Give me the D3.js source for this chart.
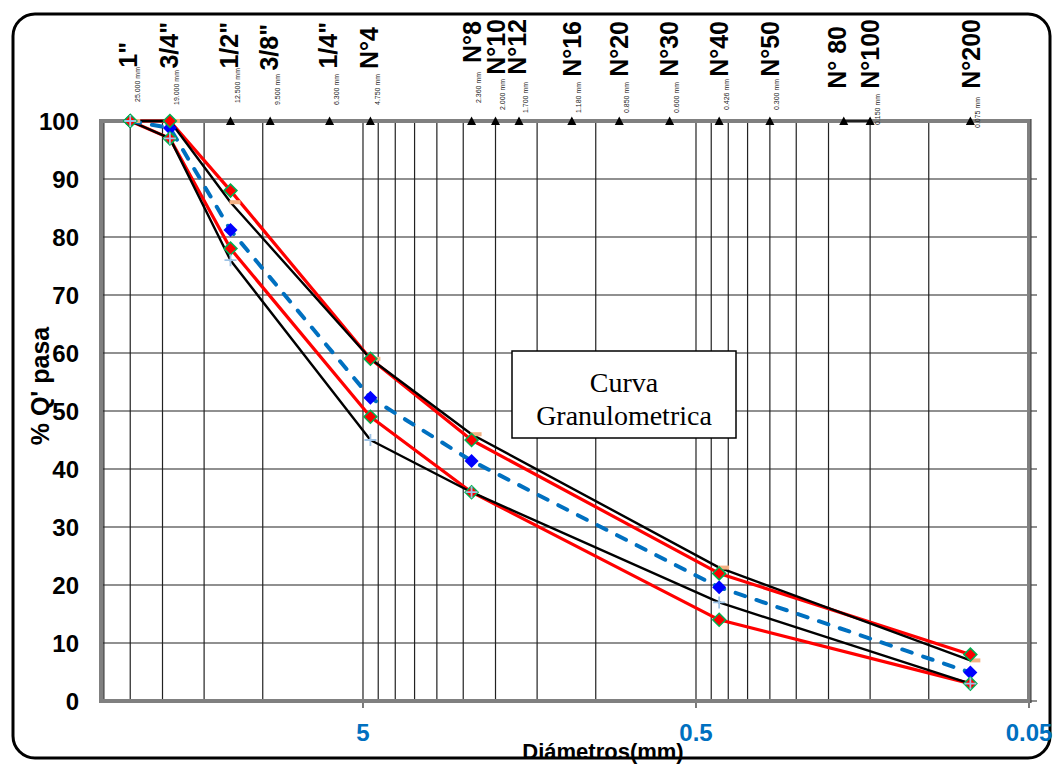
<!DOCTYPE html>
<html>
<head>
<meta charset="utf-8">
<script src="https://cdn.jsdelivr.net/npm/d3@7"></script>
<style>
  html, body { margin: 0; padding: 0; background: #fff; }
  svg { display: block; }
</style>
</head>
<body>
<svg id="chart" width="1062" height="770"></svg>
<script>
// Sieve series (ASTM) shown along the top axis
const sieveNames = ['1"', '3/4"', '1/2"', '3/8"', '1/4"', 'N°4', 'N°8', 'N°10', 'N°12', 'N°16', 'N°20', 'N°30', 'N°40', 'N°50', 'N° 80', 'N°100', 'N°200'];
const sieveMm = [25, 19, 12.5, 9.5, 6.3, 4.75, 2.36, 2.0, 1.7, 1.18, 0.85, 0.6, 0.426, 0.3, 0.18, 0.15, 0.075];
const sieveMmText = ['25.000 mm', '19.000 mm', '12.500 mm', '9.500 mm', '6.300 mm', '4.750 mm', '2.360 mm', '2.000 mm', '1.700 mm', '1.180 mm', '0.850 mm', '0.600 mm', '0.426 mm', '0.300 mm', '', '0.150 mm', '0.075 mm'];

// Grading curves: sieve openings (mm) and % passing
const gradMm = [25, 19, 12.5, 4.75, 2.36, 0.426, 0.075];
const upperLimit = [100, 100, 88, 59, 45, 22, 8];
const lowerLimit = [100, 97, 78, 49, 36, 14, 3];
const upperBand = [100, 100, 86, 59, 46, 23, 7];
const lowerBand = [100, 97, 76, 45, 36, 17, 3];
const meanCurve = [100, 98.8, 81.2, 52.3, 41.4, 19.6, 4.9];

// Axis ticks
const yTicks = [0, 10, 20, 30, 40, 50, 60, 70, 80, 90, 100];
const xTickValues = [5, 0.5, 0.05];
const xTickLabels = ['5', '0.5', '0.05'];

// Label layout tweaks for the sieve headings (top edge of big label, baseline of mm label)
const headTop = [42, 22, 22, 24, 22, 27, 21, 19, 19, 21, 21, 21, 21, 21, 26, 19, 19];
const headDx = [-2, -1, -1, -1, -2, -1, 0, 0, -2, 0, 0, -1, 0, 0, -7, 0, 1];
const mmBottom = [102, 105, 103, 105, 105, 105, 103, 110, 113, 113, 113, 113, 110, 110, 0, 125, 128];

const svg = d3.select('#chart');
const SANS = 'Liberation Sans, Arial, sans-serif';

const x = d3.scaleLog().domain([30.6, 0.05]).range([101, 1029]);
const y = d3.scaleLinear().domain([0, 100]).range([701, 121]);

// outer frame
svg.append('rect')
  .attr('x', 13).attr('y', 14).attr('width', 1037).attr('height', 744)
  .attr('rx', 22).attr('ry', 22)
  .attr('fill', '#fff').attr('stroke', '#000').attr('stroke-width', 3);

// vertical log grid: 1..9 × 0.05·10^k inside the domain
const vGrid = [];
[0.05, 0.5, 5].forEach(base => {
  for (let n = 1; n <= 9; n++) {
    const v = +(base * n).toPrecision(6);
    if (v <= 30.6) vGrid.push(v);
  }
});
const grid = svg.append('g');
grid.selectAll('line.v').data(vGrid).join('line')
  .attr('x1', d => x(d)).attr('x2', d => x(d))
  .attr('y1', y(100)).attr('y2', y(0))
  .attr('stroke', '#222').attr('stroke-width', 1.2);
grid.selectAll('line.h').data(yTicks.filter(d => d < 100)).join('line')
  .attr('x1', x.range()[0]).attr('x2', x.range()[1] + 8)
  .attr('y1', d => y(d)).attr('y2', d => y(d))
  .attr('stroke', '#222').attr('stroke-width', 1.2);

// bottom tick marks
grid.selectAll('line.bt').data(xTickValues).join('line')
  .attr('x1', d => x(d)).attr('x2', d => x(d))
  .attr('y1', y(0)).attr('y2', y(0) + 7)
  .attr('stroke', '#222').attr('stroke-width', 1.2);

// plot area border
svg.append('rect')
  .attr('x', x.range()[0]).attr('y', y(100))
  .attr('width', x.range()[1] - x.range()[0]).attr('height', y(0) - y(100))
  .attr('fill', 'none').attr('stroke', '#808080').attr('stroke-width', 4);
svg.append('line')
  .attr('x1', x.range()[1] + 2).attr('x2', x.range()[1] + 2)
  .attr('y1', y(100) - 2).attr('y2', y(0) + 2)
  .attr('stroke', '#333').attr('stroke-width', 1);

// y tick labels
svg.append('g').selectAll('text').data(yTicks).join('text')
  .attr('x', 79).attr('y', d => y(d)).attr('dy', '0.36em')
  .attr('text-anchor', 'end')
  .attr('font-family', SANS)
  .attr('font-weight', 'bold').attr('font-size', 24)
  .attr('fill', '#000')
  .text(d => d);

// x tick labels
svg.append('g').selectAll('text').data(xTickValues).join('text')
  .attr('x', d => x(d)).attr('y', 741)
  .attr('text-anchor', 'middle')
  .attr('font-family', SANS)
  .attr('font-weight', 'bold').attr('font-size', 24)
  .attr('fill', '#0070C0')
  .text((d, i) => xTickLabels[i]);

// axis titles
svg.append('text')
  .attr('x', 603).attr('y', 759)
  .attr('text-anchor', 'middle')
  .attr('font-family', SANS)
  .attr('font-weight', 'bold').attr('font-size', 22)
  .text('Diámetros(mm)');
svg.append('text')
  .attr('transform', 'translate(49,386) rotate(-90)')
  .attr('text-anchor', 'middle')
  .attr('font-family', SANS)
  .attr('font-weight', 'bold').attr('font-size', 25)
  .text("% Q' pasa");

// sieve headings
const heads = svg.append('g');
sieveNames.forEach((name, i) => {
  const sx = x(sieveMm[i]);
  heads.append('text')
    .attr('transform', `translate(${sx + headDx[i]},${headTop[i]}) rotate(-90)`)
    .attr('dy', '0.36em')
    .attr('text-anchor', 'end')
    .attr('font-family', SANS)
    .attr('font-weight', 'bold').attr('font-size', 25)
    .text(name);
  if (sieveMmText[i]) {
    heads.append('text')
      .attr('transform', `translate(${sx + 7},${mmBottom[i]}) rotate(-90)`)
      .attr('dy', '0.35em')
      .attr('text-anchor', 'start')
      .attr('font-family', SANS)
      .attr('font-size', 7)
      .attr('fill', '#222')
      .text(sieveMmText[i]);
  }
});

// sieve markers on the top axis
svg.append('line')
  .attr('x1', x(0.18)).attr('x2', x(0.15))
  .attr('y1', y(100)).attr('y2', y(100))
  .attr('stroke', '#000').attr('stroke-width', 1.5);
svg.append('g').selectAll('path').data(sieveMm).join('path')
  .attr('transform', d => `translate(${x(d)},${y(100)})`)
  .attr('d', 'M0,-4.5L4.5,4L-4.5,4Z')
  .attr('fill', '#000');

const toPts = vals => gradMm.map((mm, i) => [mm, vals[i]]);
const line = d3.line().x(d => x(d[0])).y(d => y(d[1]));

const curves = svg.append('g').attr('fill', 'none').attr('stroke-linejoin', 'round');
// specification limits (red)
[upperLimit, lowerLimit].forEach(vals => {
  curves.append('path').attr('d', line(toPts(vals)))
    .attr('stroke', '#FF0000').attr('stroke-width', 3.2);
});
// band curves (black)
[upperBand, lowerBand].forEach(vals => {
  curves.append('path').attr('d', line(toPts(vals)))
    .attr('stroke', '#000').attr('stroke-width', 2.4);
});
// mean curve (blue dashed)
curves.append('path').attr('d', line(toPts(meanCurve)))
  .attr('stroke', '#0070C0').attr('stroke-width', 4)
  .attr('stroke-dasharray', '10,12').attr('stroke-linecap', 'round');

const marks = svg.append('g');
const diamond = r => `M0,${-r}L${r},0L0,${r}L${-r},0Z`;
// mean curve diamonds
marks.append('g').selectAll('path').data(toPts(meanCurve)).join('path')
  .attr('transform', d => `translate(${x(d[0])},${y(d[1])})`)
  .attr('d', diamond(7))
  .attr('fill', '#0000FF');
// salmon dash markers on upper band
marks.selectAll('rect.ub').data(toPts(upperBand)).join('rect')
  .attr('x', d => x(d[0]) - 1).attr('y', d => y(d[1]) - 2)
  .attr('width', 11).attr('height', 4)
  .attr('fill', '#F4B183');
// diamonds on limits
[upperLimit, lowerLimit].forEach(vals => {
  marks.append('g').selectAll('path').data(toPts(vals)).join('path')
    .attr('transform', d => `translate(${x(d[0])},${y(d[1])})`)
    .attr('d', diamond(6.5))
    .attr('fill', '#FF0000').attr('stroke', '#00B050').attr('stroke-width', 1.5);
});
// plus markers on lower band
marks.append('g').selectAll('path').data(toPts(lowerBand)).join('path')
  .attr('transform', d => `translate(${x(d[0])},${y(d[1])})`)
  .attr('d', 'M-6,0H6M0,-6V6')
  .attr('stroke', '#9DC3E6').attr('stroke-width', 1.8).attr('fill', 'none');

// caption box
const box = svg.append('g');
box.append('rect')
  .attr('x', 512).attr('y', 351).attr('width', 224).attr('height', 87)
  .attr('fill', '#fff').attr('stroke', '#000').attr('stroke-width', 1.5);
box.append('text')
  .attr('x', 624).attr('y', 392)
  .attr('text-anchor', 'middle')
  .attr('font-family', 'Liberation Serif, Times New Roman, serif')
  .attr('font-size', 28)
  .text('Curva');
box.append('text')
  .attr('x', 624).attr('y', 425)
  .attr('text-anchor', 'middle')
  .attr('font-family', 'Liberation Serif, Times New Roman, serif')
  .attr('font-size', 28)
  .text('Granulometrica');
</script>
</body>
</html>
